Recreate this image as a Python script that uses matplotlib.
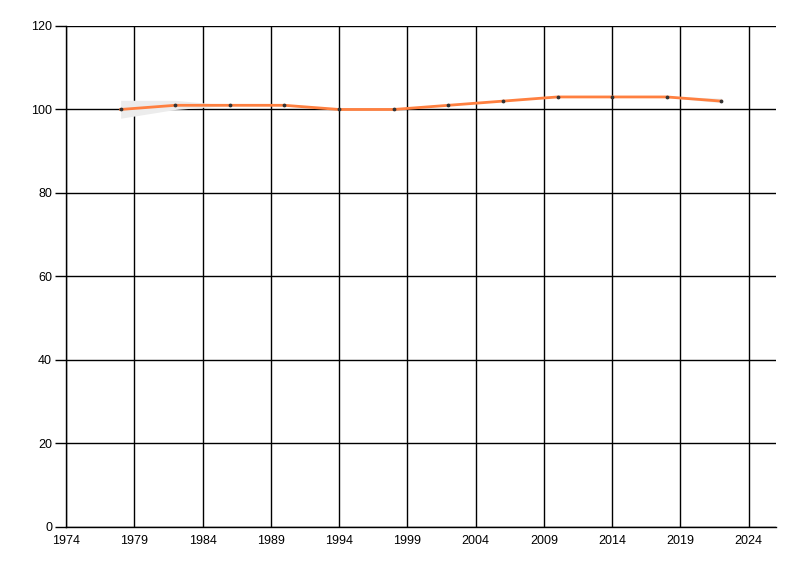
import matplotlib
matplotlib.use('Agg')
import matplotlib.pyplot as plt

years = [1978, 1982, 1986, 1990, 1994, 1998, 2002, 2006, 2010, 2014, 2018, 2022]
values = [100, 101, 101, 101, 100, 100, 101, 102, 103, 103, 103, 102]
lower = [97.9, 100.0, 101, 101, 100, 100, 101, 102, 103, 103, 102.9, 101.6]
upper = [102.2, 102.2, 101, 101, 100, 100, 101, 102, 103, 103, 103.2, 102.7]

x_ticks = list(range(1974, 2025, 5))
y_ticks = list(range(0, 121, 20))

fig = plt.figure(figsize=(8, 5.76), dpi=100)
ax = fig.add_axes([0.0825, 0.0851, 0.8875, 0.8698])

ax.fill_between(years, lower, upper, color='#ececec', lw=0, zorder=3)
ax.plot(years, values, color='#ff8040', lw=2, zorder=4)
ax.scatter(years, values, s=3, c='#333333', zorder=5)

ax.set_xlim(1974, 2026)
ax.set_ylim(0, 120)
ax.set_xticks(x_ticks)
ax.set_yticks(y_ticks)
ax.grid(True, color='black', lw=1, zorder=1)
ax.set_axisbelow(True)

for s in ['top', 'right']:
    ax.spines[s].set_visible(False)
for s in ['left', 'bottom']:
    ax.spines[s].set_linewidth(1)

ax.tick_params(axis='x', length=0, pad=6, labelsize=9)
ax.tick_params(axis='y', length=8, width=1, pad=2, labelsize=9)
for lab in ax.get_xticklabels() + ax.get_yticklabels():
    lab.set_fontfamily('Liberation Sans')

fig.savefig('out.png', dpi=100)
